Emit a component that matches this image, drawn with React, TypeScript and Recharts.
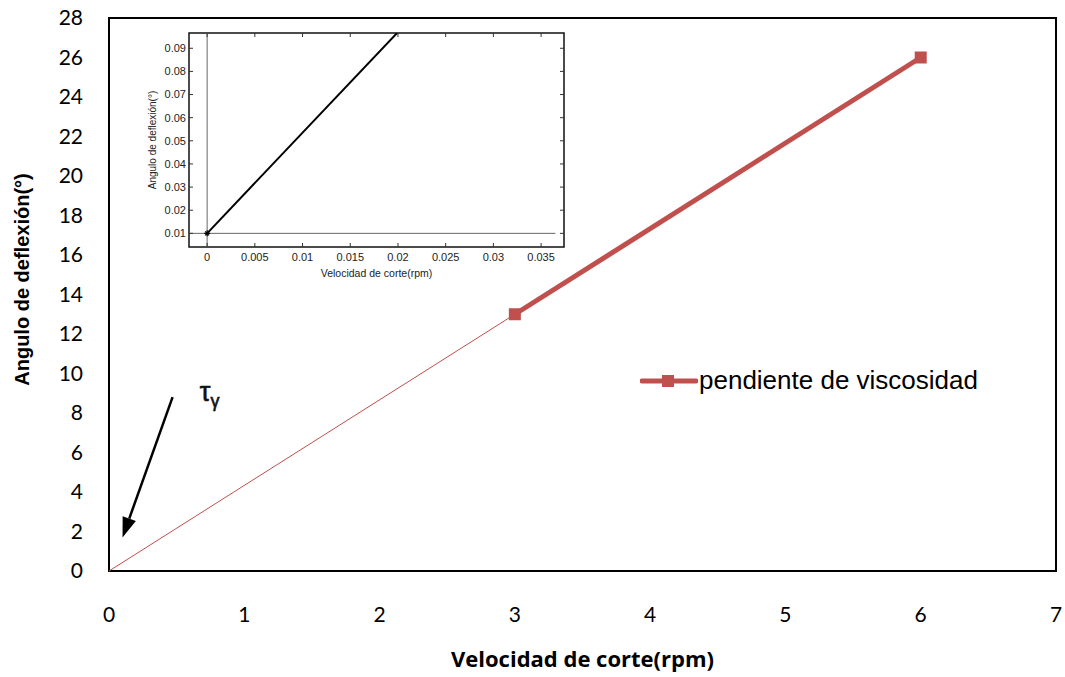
import React from "react";
import {
  LineChart,
  Line,
  XAxis,
  YAxis,
  ReferenceArea,
  ReferenceLine,
  ReferenceDot,
  Legend,
  Label,
} from "recharts";

// main chart
const xTicks = [0, 1, 2, 3, 4, 5, 6, 7];
const yTicks = [0, 2, 4, 6, 8, 10, 12, 14, 16, 18, 20, 22, 24, 26, 28];
const yieldX = [0, 3];
const yieldY = [0, 13];
const slopeX = [3, 6];
const slopeY = [13, 26];
const seriesName = "pendiente de viscosidad";

// annotation arrow (data coords)
const arrowFrom = { x: 0.47, y: 8.8 };
const arrowTo = { x: 0.1, y: 1.7 };
const tauAt = { x: 0.73, y: 8.8 };

// inset
const insetX = [0, 0.02];
const insetY = [0.01, 0.097];
const insetXTicks = [0, 0.005, 0.01, 0.015, 0.02, 0.025, 0.03, 0.035];
const insetYTicks = [0.01, 0.02, 0.03, 0.04, 0.05, 0.06, 0.07, 0.08, 0.09];
const insetXDomain = [-0.0019, 0.0374];
const insetYDomain = [0.0041, 0.0966];

const red = "#C0504D";
const mainFont = "Lato, 'Open Sans', sans-serif";
const insetFont = "'Liberation Sans', Arial, sans-serif";

const yieldData = yieldX.map((x, i) => ({ x, y: yieldY[i] }));
const slopeData = slopeX.map((x, i) => ({ x, y: slopeY[i] }));
const insetData = insetX.map((x, i) => ({ x, y: insetY[i] }));

function SquareDot(props: any) {
  const { cx, cy, index } = props;
  if (cx == null || cy == null) return null;
  return <rect key={`sq${index}`} x={cx - 6} y={cy - 6} width={12} height={12} fill={red} />;
}

function CrossDot(props: any) {
  const { cx, cy, index } = props;
  if (cx == null || cy == null || index !== 0) return <g key={`c${index}`} />;
  return (
    <g key={`c${index}`} stroke="#000" strokeWidth={1.2}>
      <line x1={cx - 3} y1={cy} x2={cx + 3} y2={cy} />
      <line x1={cx} y1={cy - 3} x2={cx} y2={cy + 3} />
      <line x1={cx - 2} y1={cy - 2} x2={cx + 2} y2={cy + 2} />
      <line x1={cx - 2} y1={cy + 2} x2={cx + 2} y2={cy - 2} />
    </g>
  );
}

function Arrow(props: any) {
  const { x1, y1, x2, y2 } = props;
  const dx = x2 - x1;
  const dy = y2 - y1;
  const len = Math.sqrt(dx * dx + dy * dy) || 1;
  const ux = dx / len;
  const uy = dy / len;
  const bx = x2 - ux * 20;
  const by = y2 - uy * 20;
  const px = -uy * 7;
  const py = ux * 7;
  return (
    <g>
      <line x1={x1} y1={y1} x2={bx} y2={by} stroke="#000" strokeWidth={2.5} />
      <polygon points={`${x2},${y2} ${bx + px},${by + py} ${bx - px},${by - py}`} fill="#000" />
    </g>
  );
}

function TauLabel(props: any) {
  const { viewBox } = props;
  const cx = viewBox?.cx ?? viewBox?.x ?? 0;
  const cy = viewBox?.cy ?? viewBox?.y ?? 0;
  return (
    <text x={cx - 8} y={cy + 4} fontFamily={insetFont} fontSize={27} fill="#111" stroke="#111" strokeWidth={0.6}>
      τ
      <tspan fontSize={18} dy={6}>γ</tspan>
    </text>
  );
}

function YTitle(props: any) {
  const { viewBox } = props;
  const x = (viewBox?.x ?? 0) + 22;
  const y = (viewBox?.y ?? 0) + (viewBox?.height ?? 0) / 2 - 15;
  return (
    <text
      x={x}
      y={y}
      transform={`rotate(-90, ${x}, ${y})`}
      textAnchor="middle"
      dominantBaseline="central"
      fontFamily={insetFont}
      fontWeight={700}
      fontSize={20}
      fill="#000"
    >
      Angulo de deflexión(°)
    </text>
  );
}

function EmptyTick() {
  return <g />;
}

function LegendBox() {
  return (
    <div style={{ display: "flex", alignItems: "center", fontFamily: insetFont, fontSize: 26, color: "#000", whiteSpace: "nowrap" }}>
      <svg width={58} height={14}>
        <line x1={2} y1={7} x2={56} y2={7} stroke={red} strokeWidth={5} strokeLinecap="round" />
        <rect x={22} y={1} width={12} height={12} fill={red} />
      </svg>
      <span style={{ marginLeft: 1 }}>{seriesName}</span>
    </div>
  );
}

function Inset() {
  const tickStyle = { fill: "#222", fontSize: 11, fontFamily: insetFont };
  return (
    <div style={{ position: "absolute", left: 130, top: 25 }}>
      <LineChart width={450} height={260} margin={{ top: 7, right: 15, bottom: 0, left: 0 }}>
        <XAxis
          type="number"
          dataKey="x"
          domain={insetXDomain}
          ticks={insetXTicks}
          interval={0}
          allowDataOverflow
          height={38}
          axisLine={false}
          tickSize={-4}
          tickMargin={10}
          tickLine={{ stroke: "#333" }}
          tick={tickStyle}
          tickFormatter={(v: number) => String(v)}
        >
          <Label value="Velocidad de corte(rpm)" position="insideBottom" offset={8} style={{ fontSize: 10.5, fontFamily: insetFont, fill: "#222" }} />
        </XAxis>
        <XAxis
          xAxisId="t"
          orientation="top"
          type="number"
          dataKey="x"
          domain={insetXDomain}
          ticks={insetXTicks}
          interval={0}
          allowDataOverflow
          height={1}
          axisLine={false}
          tickSize={-4}
          tickLine={{ stroke: "#333" }}
          tick={EmptyTick}
        />
        <YAxis
          type="number"
          domain={insetYDomain}
          ticks={insetYTicks}
          interval={0}
          allowDataOverflow
          width={59}
          axisLine={false}
          tickSize={-4}
          tickMargin={7}
          tickLine={{ stroke: "#333" }}
          tick={tickStyle}
          tickFormatter={(v: number) => String(v)}
        >
          <Label
            value="Angulo de deflexión(°)"
            angle={-90}
            position="insideLeft"
            offset={22}
            style={{ textAnchor: "middle", fontSize: 10, fontFamily: insetFont, fill: "#222" }}
          />
        </YAxis>
        <YAxis
          yAxisId="r"
          orientation="right"
          type="number"
          domain={insetYDomain}
          ticks={insetYTicks}
          interval={0}
          allowDataOverflow
          width={1}
          axisLine={false}
          tickSize={-4}
          tickLine={{ stroke: "#333" }}
          tick={EmptyTick}
        />
        <ReferenceArea
          x1={insetXDomain[0]}
          x2={insetXDomain[1]}
          y1={insetYDomain[0]}
          y2={insetYDomain[1]}
          fill="#fff"
          fillOpacity={1}
          stroke="#111"
          strokeWidth={1.5}
        />
        <ReferenceLine x={0} stroke="#666" strokeWidth={1} />
        <ReferenceLine
          segment={[
            { x: insetXDomain[0], y: 0.01 },
            { x: 0.0365, y: 0.01 },
          ]}
          stroke="#666"
          strokeWidth={1}
        />
        <Line
          data={insetData}
          dataKey="y"
          type="linear"
          stroke="#000"
          strokeWidth={2}
          dot={CrossDot}
          activeDot={false}
          isAnimationActive={false}
        />
      </LineChart>
    </div>
  );
}

export default function App() {
  const tickStyle = { fill: "#000", fontSize: 21, fontFamily: mainFont };
  const titleStyle = { fontSize: 22, fontWeight: 700, fontFamily: "'Open Sans', Lato, sans-serif", fill: "#000" };
  return (
    <div style={{ position: "absolute", left: 0, top: 0, width: 1065, height: 677, background: "#fff" }}>
      <LineChart width={1065} height={677} margin={{ top: 18, right: 9, bottom: 0, left: 0 }}>
        <XAxis
          type="number"
          dataKey="x"
          domain={[0, 7]}
          ticks={xTicks}
          interval={0}
          height={106}
          axisLine={false}
          tickLine={false}
          tickSize={0}
          tickMargin={36}
          tick={tickStyle}
        >
          <Label value="Velocidad de corte(rpm)" position="insideBottom" offset={10} style={titleStyle} />
        </XAxis>
        <YAxis
          type="number"
          domain={[0, 28]}
          ticks={yTicks}
          interval={0}
          width={109}
          axisLine={false}
          tickLine={false}
          tickSize={0}
          tickMargin={26}
          tick={tickStyle}
        >
          <Label content={<YTitle />} />
        </YAxis>
        <ReferenceArea x1={0} x2={7} y1={0} y2={28} fill="none" stroke="#000" strokeWidth={2} />
        <ReferenceLine segment={[arrowFrom, arrowTo]} shape={Arrow} ifOverflow="visible" />
        <ReferenceDot x={tauAt.x} y={tauAt.y} r={0} stroke="none" label={<TauLabel />} />
        <Line
          data={yieldData}
          dataKey="y"
          type="linear"
          stroke={red}
          strokeWidth={1}
          dot={false}
          activeDot={false}
          legendType="none"
          isAnimationActive={false}
        />
        <Line
          data={slopeData}
          dataKey="y"
          name={seriesName}
          type="linear"
          stroke={red}
          strokeWidth={5}
          dot={SquareDot}
          activeDot={false}
          isAnimationActive={false}
        />
        <Legend
          layout="horizontal"
          verticalAlign="middle"
          align="center"
          content={<LegendBox />}
          wrapperStyle={{ position: "absolute", left: 640, top: 365, width: "auto" }}
        />
      </LineChart>
      <Inset />
    </div>
  );
}
